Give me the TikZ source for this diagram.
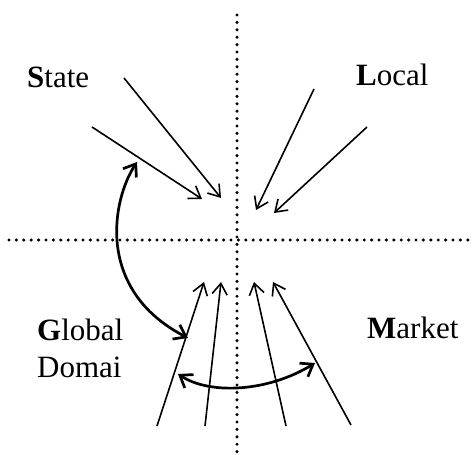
\documentclass[tikz,border=0pt]{standalone}
\usepackage{fontspec}
\setmainfont{Liberation Serif}
\usetikzlibrary{arrows.meta}
\begin{document}
\begin{tikzpicture}[x=1pt,y=-1pt,
  axis/.style={line width=3.4pt,line cap=round,dash pattern=on 0pt off 7.4pt},
  flow/.style={line width=1.6pt,-{Straight Barb[length=11pt,width=15pt,line width=1.6pt]}},
  link/.style={line width=2.7pt,{Straight Barb[length=11pt,width=16pt,line width=2.7pt]}-{Straight Barb[length=11pt,width=16pt,line width=2.7pt]}},
  lbl/.style={anchor=base west,inner sep=0pt,font=\fontsize{31}{36}\selectfont}]
\useasboundingbox (0,0) rectangle (474,455);
% quadrant axes
\coordinate (vt) at (237,15);
\coordinate (vb) at (237,453);
\coordinate (hl) at (9,240);
\coordinate (hr) at (473,240);
\draw[axis] (vt) -- (vb);
\draw[axis] (hl) -- (hr);
% labels
\node[lbl] (state) at (27,87) {\textbf{S}tate};
\node[lbl] (local) at (356,85) {\textbf{L}ocal};
\node[lbl] (global) at (37,340) {\textbf{G}lobal};
\node[lbl] (domai) at (37,377) {Domai};
\node[lbl] (market) at (367,338) {\textbf{M}arket};
% arrow endpoints
\coordinate (s1a) at (124,78);  \coordinate (s1b) at (221,198);
\coordinate (s2a) at (92,127);  \coordinate (s2b) at (202,199);
\coordinate (l1a) at (314,89);  \coordinate (l1b) at (256,210);
\coordinate (l2a) at (367,127); \coordinate (l2b) at (274,213);
\coordinate (g1a) at (157,426); \coordinate (g1b) at (204,282);
\coordinate (g2a) at (205,426); \coordinate (g2b) at (221,282);
\coordinate (m1a) at (286,426); \coordinate (m1b) at (254,282);
\coordinate (m2a) at (351,425); \coordinate (m2b) at (273,282);
% straight inward arrows
\draw[flow] (s1a) -- (s1b);
\draw[flow] (s2a) -- (s2b);
\draw[flow] (l1a) -- (l1b);
\draw[flow] (l2a) -- (l2b);
\draw[flow] (g1a) -- (g1b);
\draw[flow] (g2a) -- (g2b);
\draw[flow] (m1a) -- (m1b);
\draw[flow] (m2a) -- (m2b);
% curved two-way links
\coordinate (c1a) at (137,162); \coordinate (c1b) at (188,338);
\coordinate (c2a) at (178,374); \coordinate (c2b) at (315,363);
\draw[link] (c1a) .. controls (112,200) and (95,290) .. (c1b);
\draw[link] (c2a) .. controls (210,395) and (268,392) .. (c2b);
\end{tikzpicture}
\end{document}
